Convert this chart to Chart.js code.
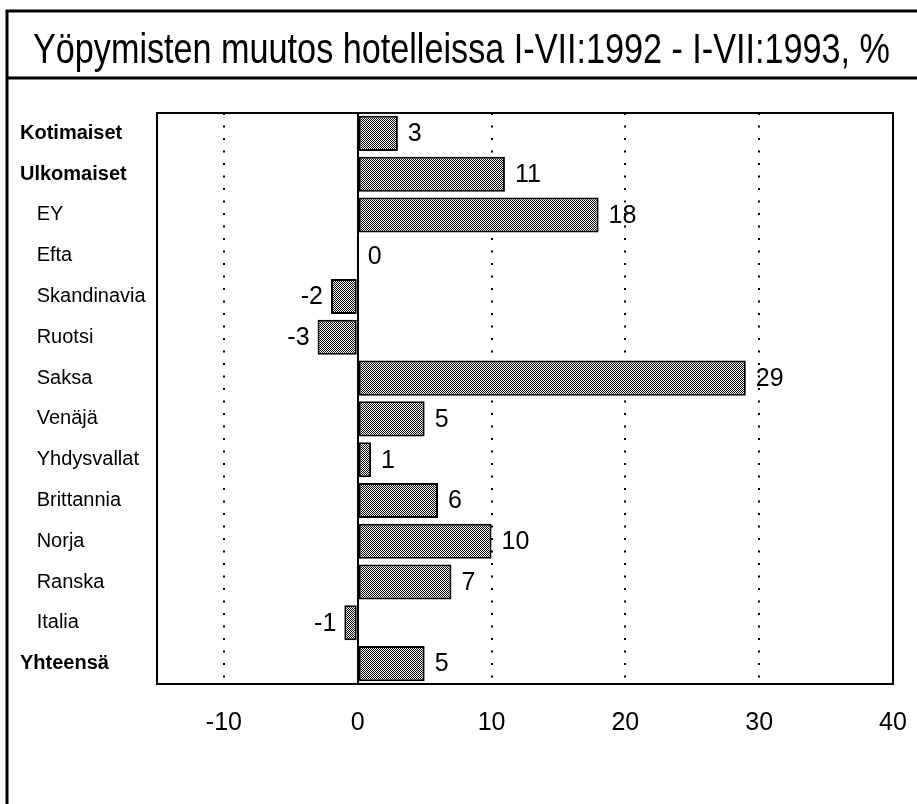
<!DOCTYPE html>
<html><head><meta charset="utf-8">
<script src="https://cdn.jsdelivr.net/npm/chart.js@4.4.1/dist/chart.umd.min.js"></script>
<style>html,body{margin:0;padding:0;background:#fff;}canvas{display:block;}</style>
</head><body>
<canvas id="c" width="917" height="804"></canvas>
<script>
const titleText = 'Yöpymisten muutos hotelleissa I-VII:1992 - I-VII:1993, %';
const categories = ['Kotimaiset','Ulkomaiset','EY','Efta','Skandinavia','Ruotsi','Saksa','Venäjä','Yhdysvallat','Brittannia','Norja','Ranska','Italia','Yhteensä'];
const values = [3,11,18,0,-2,-3,29,5,1,6,10,7,-1,5];
const boldRows = ['Kotimaiset','Ulkomaiset','Yhteensä'];
const xTicks = [-10,0,10,20,30,40];
const dottedTicks = [-10,10,20,30];
const xMin = -15, xMax = 40;

const NARROW = "'Liberation Sans Narrow','Arial Narrow','Liberation Sans',Arial,sans-serif";
const SANS = "'Liberation Sans',Arial,sans-serif";

const canvas = document.getElementById('c');
const ctx0 = canvas.getContext('2d');
function makePattern(){
  const p = document.createElement('canvas'); p.width = 2; p.height = 2;
  const g = p.getContext('2d');
  g.fillStyle = '#fff'; g.fillRect(0,0,2,2);
  g.fillStyle = '#000'; g.fillRect(0,0,1,1); g.fillRect(1,1,1,1);
  return ctx0.createPattern(p, 'repeat');
}
const pattern = makePattern();

const decor = {
  id: 'decor',
  beforeDraw(chart){
    const c = chart.ctx;
    c.save();
    c.fillStyle = '#fff';
    c.fillRect(0,0,chart.width,chart.height);
    c.strokeStyle = '#000';
    c.lineWidth = 3;
    c.beginPath();
    c.moveTo(7, 804); c.lineTo(7, 11); c.lineTo(917, 11);
    c.moveTo(7, 78); c.lineTo(917, 78);
    c.stroke();
    // title
    c.fillStyle = '#000';
    c.font = "42px " + NARROW;
    c.textBaseline = 'alphabetic';
    const w = c.measureText(titleText).width;
    const target = 857;
    c.translate(33, 63);
    c.scale(target / w, 1);
    c.textAlign = 'left';
    c.fillText(titleText, 0, 0);
    c.restore();
  },
  afterDatasetsDraw(chart){
    const c = chart.ctx;
    const a = chart.chartArea;
    const xs = chart.scales.x;
    c.save();
    c.strokeStyle = '#000';
    c.lineWidth = 2;
    const x0 = Math.round(xs.getPixelForValue(0));
    c.beginPath(); c.moveTo(x0, a.top); c.lineTo(x0, a.bottom); c.stroke();
    c.strokeRect(a.left, a.top, a.right - a.left, a.bottom - a.top);
    // value labels
    const meta = chart.getDatasetMeta(0);
    c.fillStyle = '#000';
    c.font = "25px " + NARROW;
    c.textBaseline = 'middle';
    meta.data.forEach((bar, i) => {
      const v = values[i];
      if (v < 0) {
        c.textAlign = 'right';
        c.fillText(String(v), bar.x - 8, bar.y + 1);
      } else {
        c.textAlign = 'left';
        c.fillText(String(v), bar.x + 10, bar.y + 1);
      }
    });
    c.restore();
  }
};

new Chart(canvas, {
  type: 'bar',
  data: {
    labels: categories,
    datasets: [{
      data: values,
      backgroundColor: pattern,
      borderColor: '#000',
      borderWidth: 2,
      borderSkipped: false,
      barPercentage: 0.86,
      categoryPercentage: 1
    }]
  },
  options: {
    indexAxis: 'y',
    responsive: false,
    animation: false,
    devicePixelRatio: 1,
    layout: { padding: { left: 20, top: 113, right: 24, bottom: 0 } },
    plugins: { legend: { display: false }, tooltip: { enabled: false }, title: { display: false } },
    scales: {
      x: {
        type: 'linear',
        min: xMin, max: xMax,
        afterBuildTicks: s => { s.ticks = xTicks.map(v => ({ value: v })); },
        afterFit: s => { s.height = 120; s.paddingRight = 12; s.paddingLeft = 0; },
        grid: {
          drawTicks: false,
          lineWidth: 2,
          color: ctx => (ctx.tick && dottedTicks.includes(ctx.tick.value)) ? '#000' : 'rgba(0,0,0,0)'
        },
        border: { display: false, dash: [2, 10.5] },
        ticks: {
          autoSkip: false, maxRotation: 0,
          color: '#000',
          padding: 24,
          font: { family: NARROW, size: 25 },
          callback: v => String(v)
        }
      },
      y: {
        type: 'category',
        afterFit: s => { s.width = 137; },
        grid: { display: false, drawTicks: false },
        border: { display: false },
        ticks: {
          crossAlign: 'far',
          padding: 0,
          color: '#000',
          autoSkip: false,
          font: ctx => ({ family: SANS, size: 20, weight: boldRows.includes(categories[ctx.index]) ? 'bold' : 'normal' }),
          callback: (v, i) => boldRows.includes(categories[i]) ? categories[i] : '   ' + categories[i]
        }
      }
    }
  },
  plugins: [decor]
});
</script>
</body></html>
